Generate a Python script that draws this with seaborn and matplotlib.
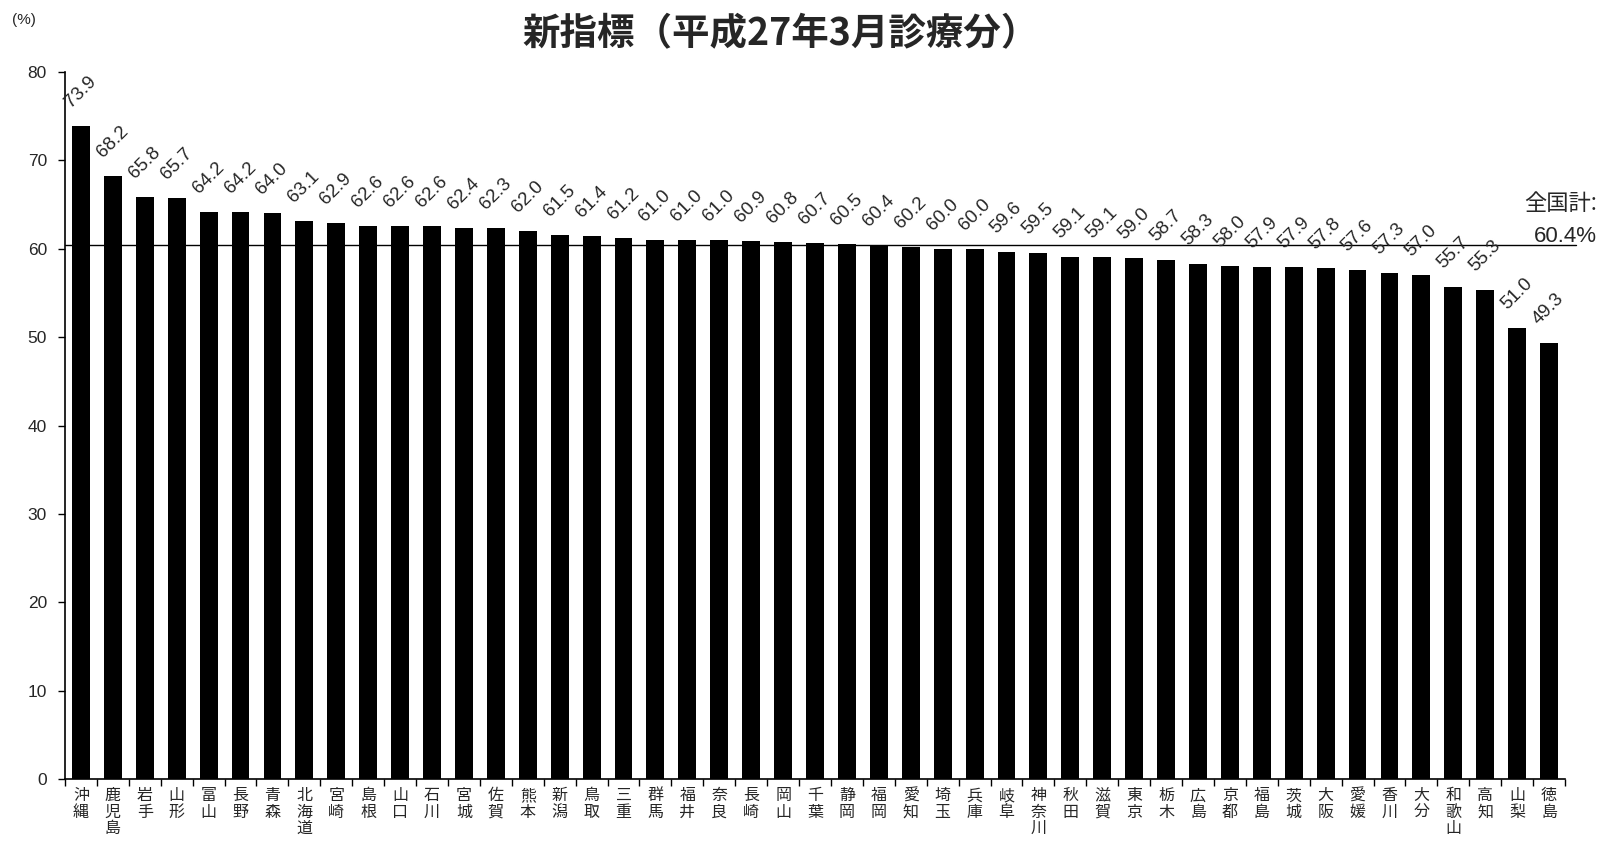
import matplotlib
matplotlib.use("Agg")
import matplotlib.pyplot as plt
import seaborn as sns
import pandas as pd
import numpy as np

prefectures = ["沖縄", "鹿児島", "岩手", "山形", "富山", "長野", "青森", "北海道", "宮崎", "島根",
               "山口", "石川", "宮城", "佐賀", "熊本", "新潟", "鳥取", "三重", "群馬", "福井",
               "奈良", "長崎", "岡山", "千葉", "静岡", "福岡", "愛知", "埼玉", "兵庫", "岐阜",
               "神奈川", "秋田", "滋賀", "東京", "栃木", "広島", "京都", "福島", "茨城", "大阪",
               "愛媛", "香川", "大分", "和歌山", "高知", "山梨", "徳島"]
values = [73.9, 68.2, 65.8, 65.7, 64.2, 64.2, 64.0, 63.1, 62.9, 62.6,
          62.6, 62.6, 62.4, 62.3, 62.0, 61.5, 61.4, 61.2, 61.0, 61.0,
          61.0, 60.9, 60.8, 60.7, 60.5, 60.4, 60.2, 60.0, 60.0, 59.6,
          59.5, 59.1, 59.1, 59.0, 58.7, 58.3, 58.0, 57.9, 57.9, 57.8,
          57.6, 57.3, 57.0, 55.7, 55.3, 51.0, 49.3]
national_total = 60.4
title = "新指標（平成27年3月診療分）"
yticks = [0, 10, 20, 30, 40, 50, 60, 70, 80]

sns.set_style("ticks")
plt.rcParams['font.family'] = ['Noto Sans CJK JP', 'DejaVu Sans']

df = pd.DataFrame({"pref": prefectures, "value": values})

fig = plt.figure(figsize=(16.01, 8.42), dpi=100)
ax = fig.add_axes([65/1601, 1-779/842, (1565-65)/1601, (779-72)/842])

sns.barplot(data=df, x="pref", y="value", color="black", saturation=1,
            width=0.56, ax=ax, order=prefectures)
for p in ax.patches:
    p.set_edgecolor("none")

ax.set_xlim(-0.5, 46.5)
ax.set_ylim(0, 80)
ax.set_yticks(yticks)
ax.set_yticklabels([str(v) for v in yticks], fontsize=12.5, family=['Liberation Sans', 'DejaVu Sans'])
ax.set_xlabel("")
ax.set_ylabel("")

# vertical stacked prefecture names
ax.set_xticks(range(len(prefectures)))
ax.set_xticklabels(["\n".join(list(n)) for n in prefectures], fontsize=11.5, linespacing=0.95,
                   va='top')
ax.tick_params(axis='x', which='major', length=0, pad=6)
ax.set_xticks(np.arange(-0.5, len(prefectures) + 0.5, 1), minor=True)
ax.tick_params(axis='x', which='minor', length=5, direction='out', width=1, color='black')
ax.tick_params(axis='y', length=5, direction='out', width=1, color='black', pad=8)

sns.despine(ax=ax)
for s in ["left", "bottom"]:
    ax.spines[s].set_color("black")
    ax.spines[s].set_linewidth(1.2)

# national total line
ax.plot([-0.5, 46.85], [national_total, national_total], color="black", lw=1, clip_on=False)
fig.text(1597/1601, 1-204/842, "全国計:", ha='right', va='center', fontsize=16)
fig.text(1597/1601, 1-236/842, f"{national_total}%", ha='right', va='center', fontsize=16,
         family=['Liberation Sans', 'DejaVu Sans'])

# value labels
for i, v in enumerate(values):
    ax.annotate(f"{v:.1f}", xy=(i, v), xytext=(-10, 18), textcoords='offset pixels',
                rotation=45, rotation_mode='anchor', ha='left', va='baseline',
                fontsize=13.5, family=['Liberation Sans', 'DejaVu Sans'])

fig.text(781/1601, 1-34/842, title, ha='center', va='center', fontsize=27, fontweight='bold')
fig.text(12/1601, 1-20/842, "(%)", ha='left', va='center', fontsize=11,
         family=['Liberation Sans', 'DejaVu Sans'])

fig.savefig("out.png", dpi=100, facecolor="white")
